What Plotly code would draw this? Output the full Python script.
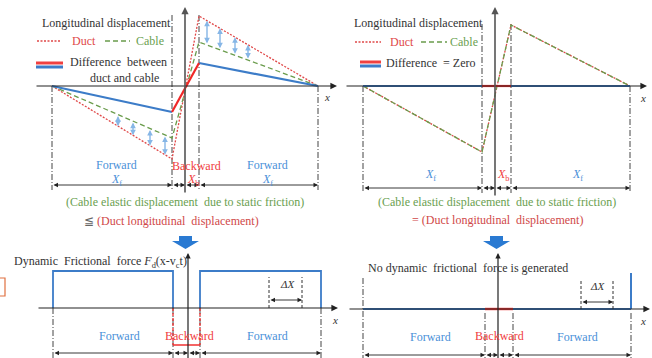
import numpy as np
import plotly.graph_objects as go

W, H = 652, 358

# ---------------- data (position / value relative to each panel's origin) ----------------
# Top-left: cable displacement < duct displacement
tl_x = [-133, -13, 14, 133]
tl_duct = [0, -73, 70, 0]
tl_cable = [0, -52, 44, 0]
tl_diff = [0, -26, 23, 0]
tl_arrow_x = [-67, -52, -35, -20, 22, 35, 50, 63]

# Top-right: cable displacement = duct displacement
tr_x = [-132, -13, 16, 135]
tr_duct = [0, -66, 61, 0]
tr_cable = [0, -66, 61, 0]
tr_diff = [0, 0, 0, 0]

# Bottom-left: dynamic frictional force (forward, backward, forward)
bl_x = [-135, -15, 12, 133]
bl_force = [37, -37, 37]
bl_dx = [81, 114]

# Bottom-right: no dynamic frictional force
br_x = [-135, -13, 15, 133]
br_force = [0, 0, 0]
br_dx = [83, 115]

# ---------------- styling ----------------
FONT = "Liberation Serif, Times New Roman, Tinos, DejaVu Serif, serif"
FS = 12
C_AX = "#222222"
C_VAX = "#555555"
C_DD = "#444444"
C_RED = "#e04848"
C_GREEN = "#6a9c4c"
C_BLUE = "#3c7cc8"
C_LBLUE = "#86b6e6"
C_TBLUE = "#4a90d8"
C_TRED = "#f03c3c"
C_TGREEN = "#6aa050"
DASHDOT = "6px,2px,1px,2px"

# panel: axis ids and origin in pixels
panels = {
    "tl": ("x", "y", 185, 86),
    "tr": ("x2", "y2", 495, 86),
    "bl": ("x3", "y3", 188, 308),
    "br": ("x4", "y4", 498, 309),
}

fig = go.Figure()
layout = dict(width=W, height=H, autosize=False, margin=dict(l=0, r=0, t=0, b=0, pad=0),
              paper_bgcolor="white", plot_bgcolor="white", showlegend=False,
              font=dict(family=FONT, size=FS, color="#333333"))
for i, (name, (xa, ya, ox, oy)) in enumerate(panels.items()):
    k = "" if i == 0 else str(i + 1)
    xd = dict(range=[-ox, W - ox], domain=[0, 1], visible=False, fixedrange=True, anchor="y" + k)
    yd = dict(range=[oy - H, oy], domain=[0, 1], visible=False, fixedrange=True, anchor="x" + k)
    if i > 0:
        xd["overlaying"] = "x"
        yd["overlaying"] = "y"
    layout["xaxis" + k] = xd
    layout["yaxis" + k] = yd
fig.update_layout(**layout)

annotations = []
shapes = []


def line(p, xs, ys, color, width=1.0, dash="solid"):
    xa, ya = panels[p][0], panels[p][1]
    fig.add_trace(go.Scatter(x=xs, y=ys, mode="lines", xaxis=xa, yaxis=ya, hoverinfo="skip",
                             line=dict(color=color, width=width, dash=dash)))


def arrow(p, x0, y0, x1, y1, color=C_AX, width=1.0, both=False, size=1.0, head=2):
    xa, ya = panels[p][0], panels[p][1]
    annotations.append(dict(x=x1, y=y1, ax=x0, ay=y0, xref=xa, yref=ya, axref=xa, ayref=ya,
                            text="", showarrow=True, arrowhead=head, arrowsize=size,
                            arrowwidth=width, arrowcolor=color, standoff=0, startstandoff=0,
                            arrowside="end+start" if both else "end", startarrowhead=head,
                            startarrowsize=size))


def px(x):
    return x / W


def py(y):
    return 1 - y / H


def text(x, y, s, color="#333333", size=FS, anchor="center"):
    annotations.append(dict(x=px(x), y=py(y), xref="paper", yref="paper", text=s, showarrow=False,
                            xanchor=anchor, yanchor="middle",
                            font=dict(family=FONT, size=size, color=color)))


def pline(x0, y0, x1, y1, color, width=1, dash="solid"):
    shapes.append(dict(type="line", xref="paper", yref="paper", x0=px(x0), y0=py(y0), x1=px(x1),
                       y1=py(y1), line=dict(color=color, width=width, dash=dash)))


def down_arrow(cx, top):
    pts = [(cx - 6.5, top), (cx + 6.5, top), (cx + 6.5, top + 5), (cx + 13.5, top + 5),
           (cx, top + 13), (cx - 13.5, top + 5), (cx - 6.5, top + 5)]
    path = "M " + " L ".join(f"{px(a):.5f},{py(b):.5f}" for a, b in pts) + " Z"
    shapes.append(dict(type="path", xref="paper", yref="paper", path=path,
                       fillcolor="#2a7ad2", line=dict(width=0)))


# ================= TOP PANELS =================
for p, xs, duct, cable, diff, row in [("tl", tl_x, tl_duct, tl_cable, tl_diff, -99),
                                      ("tr", tr_x, tr_duct, tr_cable, tr_diff, -102)]:
    bottom = row - 5
    # dash-dot boundaries
    for j, xv in enumerate(xs):
        top = 0 if j in (0, 3) else max(duct) + 1
        line(p, [xv, xv], [top, bottom], C_DD, 1, DASHDOT)
    # axes
    arrow(p, -150, 0, 152, 0, C_AX, 1.2, size=1.1)
    arrow(p, 0, bottom - 4, 0, 79, C_VAX, 1.6, size=0.9)
    # duct and cable
    line(p, xs, duct, C_RED, 1.3, "2px,1.5px")
    line(p, xs, cable, C_GREEN, 1.3, "5px,3px")
    # difference: forward (blue) / backward (red)
    line(p, xs[:2], diff[:2], C_BLUE, 2.2)
    line(p, xs[2:], diff[2:], C_BLUE, 2.2)
    line(p, xs[1:3], diff[1:3], "#f02828", 2.2)
    # dimension arrows
    segs = [(xs[0], xs[1]), (xs[1], 0), (0, xs[2]), (xs[2], xs[3])]
    for a, b in segs:
        arrow(p, a, row, b, row, "#222222", 0.9, both=True, size=1.0)

# TL difference arrows between cable and duct
for xv in tl_arrow_x:
    yd = float(np.interp(xv, tl_x, tl_duct))
    yc = float(np.interp(xv, tl_x, tl_cable))
    arrow("tl", xv, yc, xv, yd, C_LBLUE, 1.4, both=True, size=0.8)

# TL legend
text(40, 23, "Longitudinal displacement", anchor="left")
pline(37, 41, 61, 41, C_RED, 1.3, "2px,1.5px")
text(84, 41, "Duct", C_RED)
pline(105, 41, 130, 41, C_GREEN, 1.3, "5px,3px")
text(150, 41, "Cable", C_TGREEN)
pline(36, 63, 63, 63, "#f04040", 3)
pline(36, 67, 63, 67, C_BLUE, 3)
text(118, 62, "Difference  between")
text(124, 78, "duct and cable")
text(327, 97, "<i>x</i>", "#333333", 11)

# TL under-labels
text(116, 165, "Forward", C_TBLUE)
text(116, 180, "<i>X</i><sub>f</sub>", C_TBLUE)
text(197, 166, "Backward", C_TRED)
text(193, 180, "<i>X</i><sub>b</sub>", C_TRED)
text(267, 165, "Forward", C_TBLUE)
text(267, 180, "<i>X</i><sub>f</sub>", C_TBLUE)
text(185, 202, "(Cable elastic displacement  due to static friction)", C_TGREEN)
text(172, 221, "<span style='color:#666666'>≦</span> (Duct longitudinal  displacement)", "#d04848")
down_arrow(185.5, 236)

# TR legend
text(352, 23, "Longitudinal displacement", anchor="left")
pline(355, 42, 381, 42, C_RED, 1.3, "2px,1.5px")
text(402, 42, "Duct", C_RED)
pline(421, 42, 447, 42, C_GREEN, 1.3, "5px,3px")
text(464, 42, "Cable", C_TGREEN)
pline(360, 62, 381, 62, "#f04040", 3)
pline(360, 66, 381, 66, C_BLUE, 3)
text(431, 63, "Difference  = Zero")
text(643, 98, "<i>x</i>", "#333333", 11)

text(430, 175, "<i>X</i><sub>f</sub>", C_TBLUE)
text(503, 175, "<i>X</i><sub>b</sub>", C_TRED)
text(577, 175, "<i>X</i><sub>f</sub>", C_TBLUE)
text(497, 202, "(Cable elastic displacement  due to static friction)", C_TGREEN)
text(497, 220, "= (Duct longitudinal  displacement)", "#d04848")
down_arrow(496.5, 236)

# ================= BOTTOM-LEFT =================
p = "bl"
row = -45
for xv in bl_x:
    line(p, [xv, xv], [0, -52], C_DD, 1, DASHDOT)
arrow(p, -151, 0, 150, 0, C_AX, 1.2, size=1.1)
arrow(p, 0, -52, 0, 55, C_AX, 1.2, size=0.9)
f1, f2, f3 = bl_force
line(p, [bl_x[0], bl_x[0], bl_x[1], bl_x[1]], [0, f1, f1, 0], C_BLUE, 1.8)
line(p, [bl_x[2], bl_x[2], bl_x[3], bl_x[3]], [0, f3, f3, 0], C_BLUE, 1.8)
line(p, [bl_x[1], bl_x[1]], [0, f2], "#f03030", 1.3, "3px,2px")
line(p, [bl_x[2], bl_x[2]], [0, f2], "#f03030", 1.3, "3px,2px")
line(p, [bl_x[1], bl_x[2]], [f2, f2], "#f03030", 1.5)
for xv in bl_dx:
    line(p, [xv, xv], [0, 31], "#333333", 1, "3px,2px")
arrow(p, bl_dx[0], 8, bl_dx[1], 8, "#222222", 0.9, both=True)
for a, b in [(bl_x[0], bl_x[1]), (bl_x[1], 0), (0, bl_x[2]), (bl_x[2], bl_x[3])]:
    arrow(p, a, row, b, row, "#222222", 0.9, both=True)
text(12, 262, "Dynamic  Frictional  force <i>F</i><sub>d</sub>(x-v<sub>c</sub>t)", anchor="left")
text(287, 284, "<i>ΔX</i>", "#333333", 11)
text(335, 320, "<i>x</i>", "#333333", 11)
text(119, 336, "Forward", C_TBLUE)
text(189, 336, "Backward", C_TRED)
text(267, 336, "Forward", C_TBLUE)

# ================= BOTTOM-RIGHT =================
p = "br"
row = -46
line(p, [br_x[0], br_x[0]], [31, -52], C_DD, 1, DASHDOT)
for xv in br_x[1:]:
    line(p, [xv, xv], [-4, -52], C_DD, 1, DASHDOT)
arrow(p, -150, 0, 152, 0, C_AX, 1.2, size=1.1)
arrow(p, 0, -52, 0, 56, C_AX, 1.2, size=0.9)
line(p, br_x[:2], br_force[:2], C_BLUE, 2.2)
line(p, br_x[2:], br_force[1:], C_BLUE, 2.2)
line(p, br_x[1:3], br_force[1:], "#f03030", 2.4)
line(p, [br_x[3], br_x[3]], [0, 36], C_BLUE, 2)
for xv in br_dx:
    line(p, [xv, xv], [0, 29], "#333333", 1, "3px,2px")
arrow(p, br_dx[0], 7, br_dx[1], 7, "#222222", 0.9, both=True)
for a, b in [(br_x[0], br_x[1]), (br_x[1], 0), (0, br_x[2]), (br_x[2], br_x[3])]:
    arrow(p, a, row, b, row, "#222222", 0.9, both=True)
text(468, 268, "No dynamic  frictional  force is generated")
text(597, 286, "<i>ΔX</i>", "#333333", 11)
text(643, 321, "<i>x</i>", "#333333", 11)
text(430, 337, "Forward", C_TBLUE)
text(499, 336, "Backward", C_TRED)
text(577, 337, "Forward", C_TBLUE)

# sliver of neighbouring figure at the left edge
shapes.append(dict(type="rect", xref="paper", yref="paper", x0=px(-4), x1=px(5), y0=py(296),
                   y1=py(278), line=dict(color="#e07040", width=1.2)))

fig.update_layout(annotations=annotations, shapes=shapes)
fig.write_html("out.html", config={"displayModeBar": False},
               post_script="document.body.style.margin='0';document.body.style.padding='0';")
